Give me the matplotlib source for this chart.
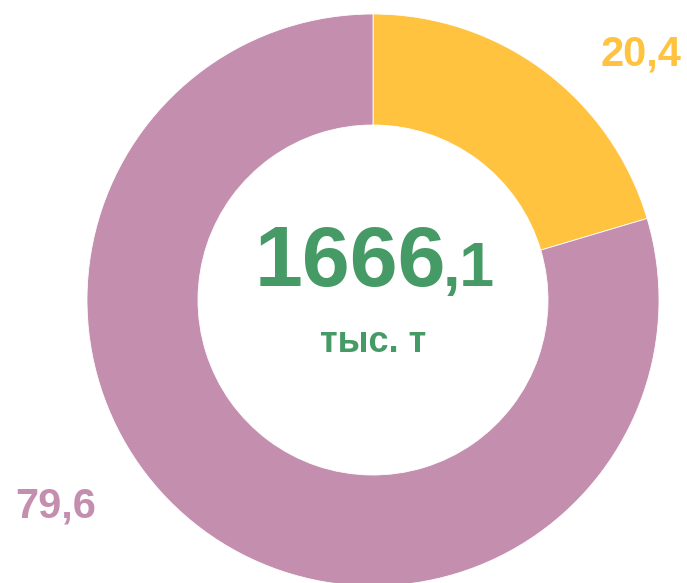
import matplotlib
matplotlib.use("Agg")
import matplotlib.pyplot as plt

categories = ["A", "B"]
values = [20.4, 79.6]
colors = ["#FFC33F", "#C48EAE"]
total_int = "1666"
total_dec = ",1"
unit = "тыс. т"

plt.rcParams['font.family'] = ['Liberation Sans', 'DejaVu Sans']

W, H = 687, 583
fig = plt.figure(figsize=(W / 100, H / 100), dpi=100)
ax = fig.add_axes([0, 0, 1, 1])

cx, cy, R = 373, H - 300, 286
ax.pie(values, colors=colors, startangle=90, counterclock=False,
       center=(cx, cy), radius=R,
       wedgeprops=dict(width=111, edgecolor='white', linewidth=0.6))
ax.set_xlim(0, W)
ax.set_ylim(0, H)
ax.set_aspect('equal')
ax.axis('off')

def fmt(v):
    return f"{v:.1f}".replace(".", ",")

ax.text(641, H - 54, fmt(values[0]), color=colors[0], fontsize=30,
        fontweight='bold', ha='center', va='center')
ax.text(56, H - 506, fmt(values[1]), color=colors[1], fontsize=30,
        fontweight='bold', ha='center', va='center')

green = "#459A65"
ax.text(446, H - 286, total_int, color=green, fontsize=62,
        fontweight='bold', ha='right', va='baseline')
ax.text(443, H - 286, total_dec, color=green, fontsize=45,
        fontweight='bold', ha='left', va='baseline')
ax.text(373, H - 352, unit, color=green, fontsize=26,
        fontweight='bold', ha='center', va='baseline')

fig.savefig("out.png", dpi=100)
